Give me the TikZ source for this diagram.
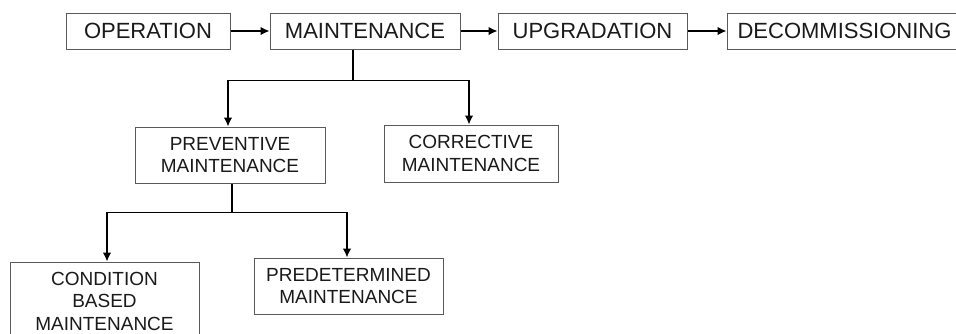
\documentclass[tikz,border=0pt]{standalone}
\usepackage{fontspec}
\setmainfont{Liberation Sans}
\usetikzlibrary{arrows.meta}
\definecolor{boxline}{HTML}{5A5A5A}
\definecolor{ink}{HTML}{1A1A1A}
\tikzset{
  box/.style={draw=boxline, line width=1pt, text=ink, inner sep=0pt, align=center},
  topbox/.style={box, minimum height=36pt, font=\fontsize{22}{24}\selectfont},
  subbox/.style={box, font=\fontsize{19}{22.5}\selectfont},
  conn/.style={draw=black, line width=1.4pt},
  arr/.style={conn, -{Latex[length=9pt,width=8.5pt]}}
}
\begin{document}
\begin{tikzpicture}[x=1pt,y=-1pt]
  \useasboundingbox (0,0) rectangle (956,333);
  \fill[white] (0,0) rectangle (956,333);

  % life-cycle stages
  \node[topbox, minimum width=164pt] (op)  at (148,31)   {OPERATION};
  \node[topbox, minimum width=190pt] (mnt) at (365,31)   {MAINTENANCE};
  \node[topbox, minimum width=189pt] (upg) at (592.5,31) {UPGRADATION};
  \node[topbox, minimum width=235pt] (dec) at (844.5,31) {DECOMMISSIONING};

  % kinds of maintenance
  \node[subbox, minimum width=190pt, minimum height=56pt] (prev) at (230,155)
    {PREVENTIVE\\MAINTENANCE};
  \node[subbox, minimum width=174pt, minimum height=57pt] (corr) at (471,153.5)
    {CORRECTIVE\\MAINTENANCE};

  % kinds of preventive maintenance
  \node[subbox, minimum width=189pt, minimum height=78pt] (cond) at (104.5,301)
    {CONDITION\\BASED\\MAINTENANCE};
  \node[subbox, minimum width=189pt, minimum height=56pt] (pred) at (348.5,286)
    {PREDETERMINED\\MAINTENANCE};

  % stage sequence
  \draw[arr] (op)  -- (mnt);
  \draw[arr] (mnt) -- (upg);
  \draw[arr] (upg) -- (dec);

  % maintenance branches
  \draw[conn] ([xshift=-12pt]mnt.south) -- ++(0,31) coordinate (j1);
  \draw[arr] (j1) -| ([xshift=-2pt]prev.north);
  \draw[arr] (j1) -| ([xshift=-2pt]corr.north);

  % preventive maintenance branches
  \draw[conn] ([xshift=2pt]prev.south) -- ++(0,29) coordinate (j2);
  \draw[arr] (j2) -| ([xshift=2.5pt]cond.north);
  \draw[arr] (j2) -| ([xshift=-1.5pt]pred.north);
\end{tikzpicture}
\end{document}
